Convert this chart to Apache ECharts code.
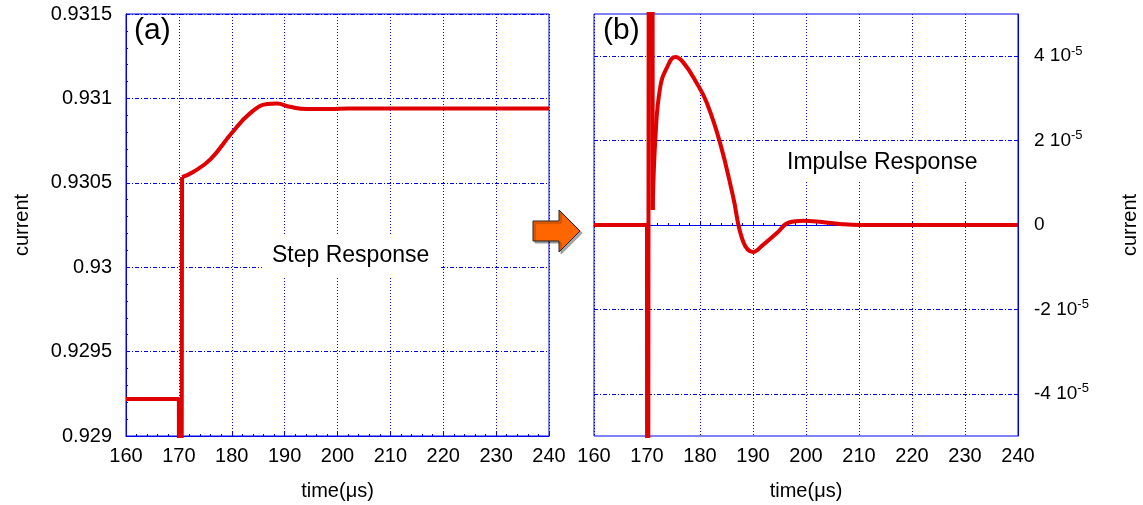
<!DOCTYPE html>
<html>
<head>
<meta charset="utf-8">
<script src="https://cdn.jsdelivr.net/npm/echarts@6/dist/echarts.min.js"></script>
<style>
html,body{margin:0;padding:0;background:#fff;}
#c{width:1143px;height:505px;}
</style>
</head>
<body>
<div id="c"></div>
<script>
// ---- data ----
const xTicks = [160, 170, 180, 190, 200, 210, 220, 230, 240];
const stepTicks = [0.929, 0.9295, 0.93, 0.9305, 0.931, 0.9315];
const impulseTicks = [-4e-5, -2e-5, 0, 2e-5, 4e-5];

const stepTime = [160, 170.0, 170.05, 170.5, 170.6, 172.7, 176.0, 180.0, 183.5, 186.7, 188.5, 191.0, 194.2, 198.6, 202, 210, 220, 230, 240];
const stepCurrent = [0.929219, 0.929219, 0.9280, 0.9280, 0.930534, 0.930564, 0.930640, 0.930795, 0.930913, 0.930967, 0.930970, 0.930950, 0.930937, 0.930937, 0.930940, 0.930940, 0.930940, 0.930940, 0.930940];
const stepJumpIndex = 4;

const impTime = [160, 170.0, 170.09, 170.47, 170.95, 171.08, 171.6, 172.5, 173.8, 175.3, 176.8, 179.4, 181.3, 183.8, 186.2, 188.1, 190.0, 191.9, 194.5, 196.8, 199.5, 203.0, 206.4, 210, 220, 230, 240];
const impCurrent = [0, 0, -3e-4, 3e-4, 3e-4, 3.55e-6, 2.1e-5, 3.27e-5, 3.74e-5, 3.98e-5, 3.86e-5, 3.36e-5, 2.89e-5, 1.94e-5, 7.0e-6, -3.8e-6, -6.4e-6, -4.7e-6, -1.9e-6, 6e-7, 1.0e-6, 7e-7, 2.4e-7, 0, 0, 0, 0];
const impJumpIndex = 5;

const FONT = 'Liberation Sans, Arial, sans-serif';
const BLUE = '#0000ee';
const RED = '#e00000';

function pairs(xs, ys, a, b){ const yy = ys.slice(a, b); return xs.slice(a, b).map((x,i)=>[x, yy[i]]); }

function xAxisCfg(gi){
  return {
    type:'value', gridIndex:gi, min:160, max:240, interval:10,
    axisLine:{show:true, lineStyle:{color:BLUE, width:1}},
    axisTick:{show:true, inside:true, length:4, lineStyle:{color:BLUE}},
    minorTick:{show:true, splitNumber:5, length:2, lineStyle:{color:BLUE}},
    splitLine:{show:true, lineStyle:{color:BLUE, type:[1,2], width:1}},
    axisLabel:{color:'#000', fontSize:20, fontFamily:FONT, margin:10, showMinLabel:true, showMaxLabel:true},
    name:'time(μs)', nameLocation:'middle', nameGap:45,
    nameTextStyle:{color:'#000', fontSize:20, fontFamily:FONT}
  };
}

function lineSeries(xi, data, smooth){
  return {type:'line', xAxisIndex:xi, yAxisIndex:xi, data:data, showSymbol:false, clip:true,
    smooth:smooth ? 0.45 : false,
    lineStyle:{color:RED, width:4}, itemStyle:{color:RED}, z:5};
}

const option = {
  animation:false,
  backgroundColor:'#fff',
  grid:[
    {left:126, top:14, width:423, height:422, show:true, borderColor:BLUE, borderWidth:1, containLabel:false, outerBoundsMode:'none'},
    {left:594, top:14, width:424, height:422, show:true, borderColor:BLUE, borderWidth:1, containLabel:false, outerBoundsMode:'none'}
  ],
  xAxis:[xAxisCfg(0), xAxisCfg(1)],
  yAxis:[
    {
      type:'value', gridIndex:0, min:0.929, max:0.9315, interval:0.0005,
      axisLine:{show:true, lineStyle:{color:BLUE}},
      axisTick:{show:true, inside:true, length:4, lineStyle:{color:BLUE}},
      minorTick:{show:true, splitNumber:5, length:2, lineStyle:{color:BLUE}},
      splitLine:{show:true, lineStyle:{color:BLUE, type:[4,2,1,2], width:1}},
      axisLabel:{color:'#000', fontSize:20, fontFamily:FONT, margin:14, showMinLabel:true, showMaxLabel:true,
        formatter: v => String(parseFloat(v.toFixed(4)))},
      name:'current', nameLocation:'middle', nameGap:94,
      nameTextStyle:{color:'#000', fontSize:20, fontFamily:FONT}
    },
    {
      type:'value', gridIndex:1, position:'right', min:-5e-5, max:5e-5,
      axisLine:{show:true, lineStyle:{color:BLUE}},
      axisTick:{show:true, inside:true, length:4, lineStyle:{color:BLUE}, customValues:impulseTicks},
      splitLine:{show:true, lineStyle:{color:BLUE, type:[4,2,1,2], width:1}},
      axisLabel:{color:'#000', fontSize:19, fontFamily:FONT, margin:16, customValues:impulseTicks,
        formatter: v => { const n = Math.round(v*1e5); if (n===0) return '{n|0}'; return '{n|' + n + ' 10}{s|-5}'; },
        rich:{
          n:{fontSize:19, fontFamily:FONT, color:'#000'},
          s:{fontSize:13, fontFamily:FONT, color:'#000', verticalAlign:'top', padding:[0,0,10,0]}
        }},
      name:'current', nameLocation:'middle', nameGap:102,
      nameTextStyle:{color:'#000', fontSize:20, fontFamily:FONT}
    }
  ],
  series:[
    lineSeries(0, pairs(stepTime, stepCurrent, 0, stepJumpIndex + 1), false),
    lineSeries(0, pairs(stepTime, stepCurrent, stepJumpIndex, stepTime.length), true),
    lineSeries(1, pairs(impTime, impCurrent, 0, impJumpIndex + 1), false),
    lineSeries(1, pairs(impTime, impCurrent, impJumpIndex, impTime.length), true)
  ],
  graphic:[
    {type:'text', left:134, top:16, z:10, style:{text:'(a)', fontSize:30, fontFamily:FONT, fill:'#000'}},
    {type:'text', left:603, top:16, z:10, style:{text:'(b)', fontSize:30, fontFamily:FONT, fill:'#000'}},
    {type:'text', left:262, top:234, z:10, style:{text:'Step Response', fontSize:23, fontFamily:FONT, fill:'#000',
      backgroundColor:'#fff', padding:[10,10,10,10]}},
    {type:'text', left:777, top:143, z:10, style:{text:'Impulse Response', fontSize:23, fontFamily:FONT, fill:'#000',
      backgroundColor:'#fff', padding:[8,10,8,10]}},
    {type:'polygon', z:10, shape:{points:[[533,221],[559,221],[559,210],[580,231],[559,252],[559,241],[533,241]]},
      style:{fill:'#ff6600', stroke:'#222', lineWidth:1, shadowColor:'rgba(0,0,0,0.35)', shadowOffsetX:2, shadowOffsetY:2, shadowBlur:1}}
  ]
};

const chart = echarts.init(document.getElementById('c'), null, {renderer:'canvas'});
chart.setOption(option);
</script>
</body>
</html>
